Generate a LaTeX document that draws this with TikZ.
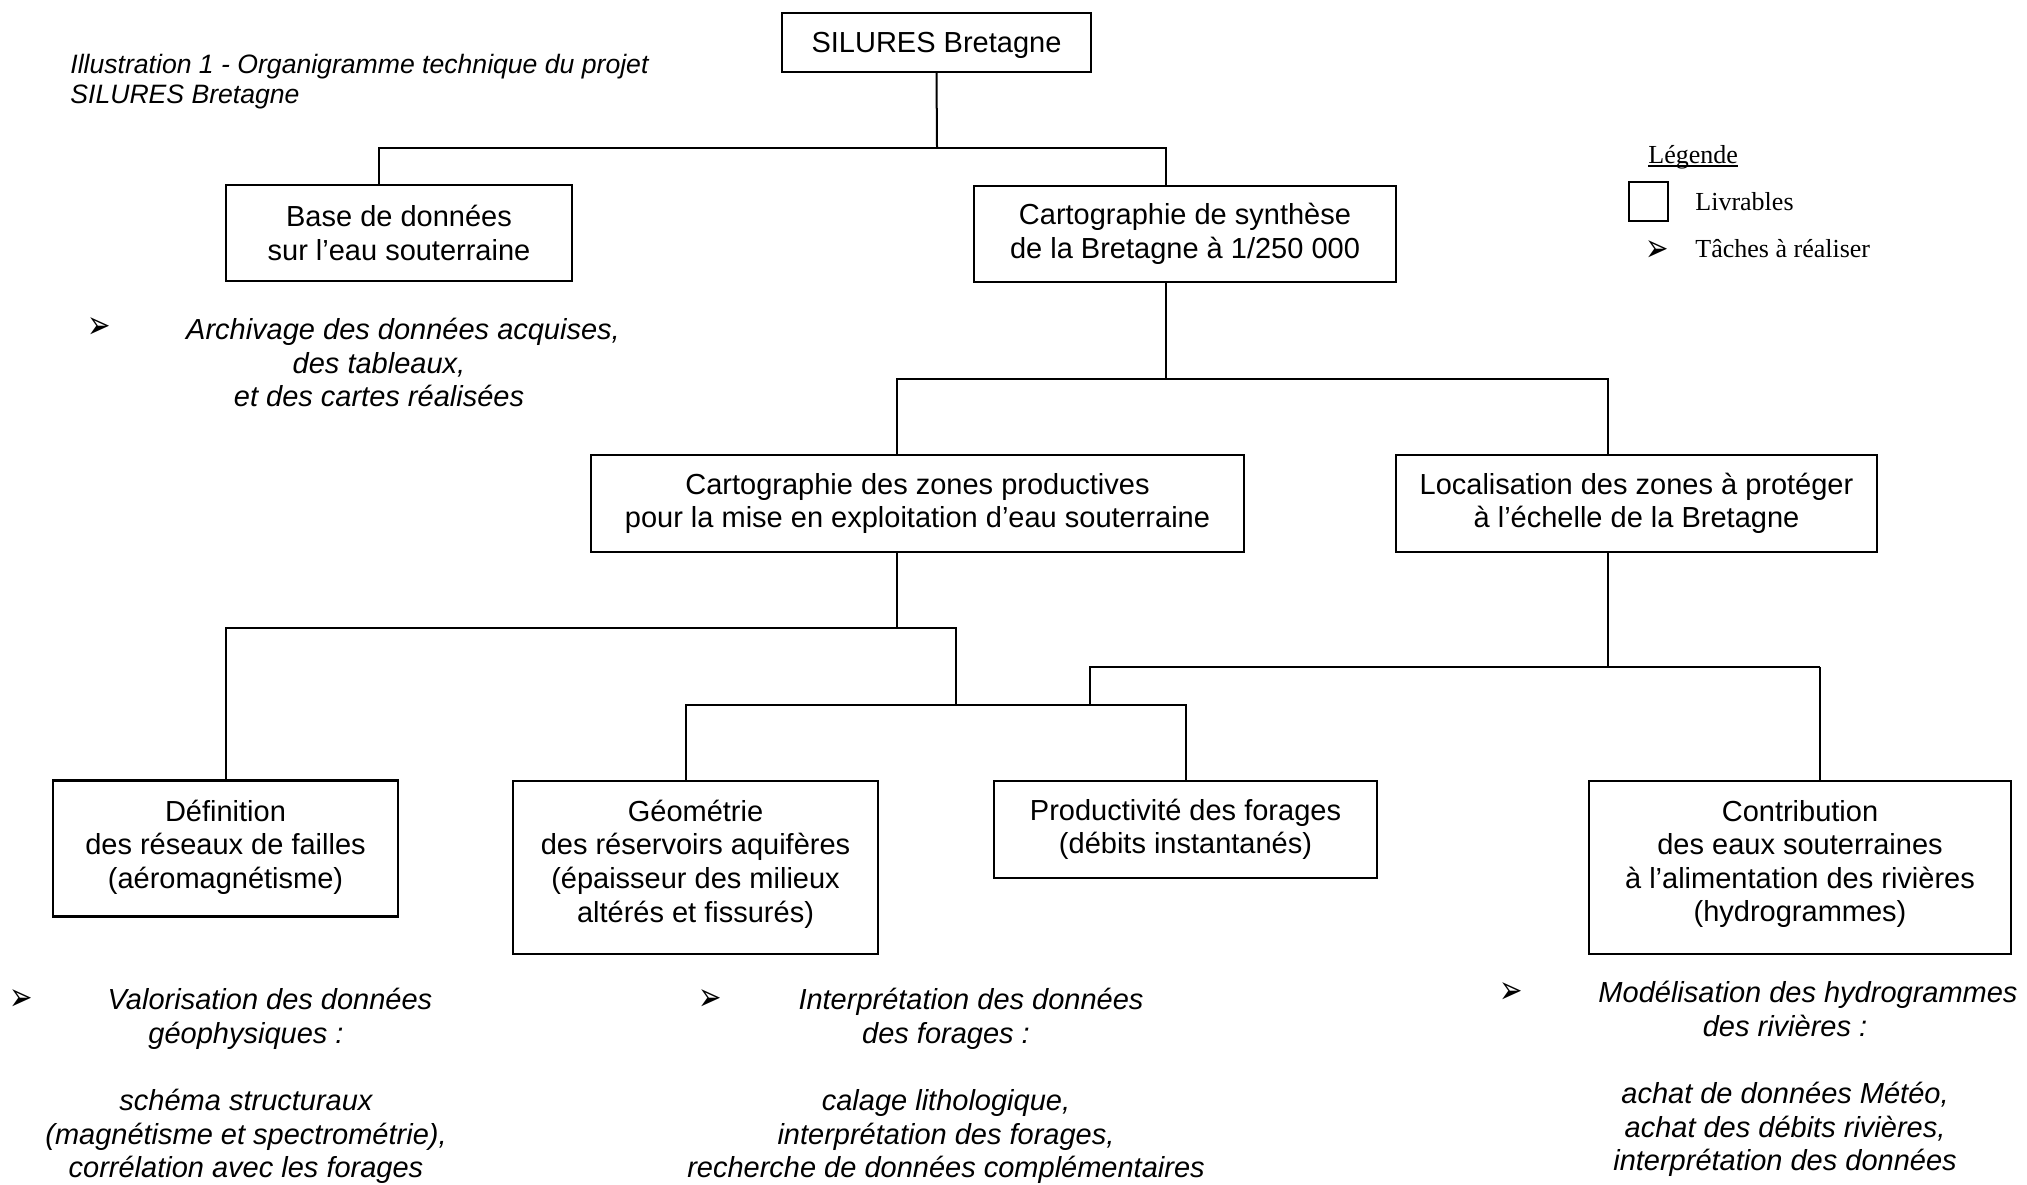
\documentclass[tikz,border=0pt]{standalone}
\usepackage{fontspec}
\setmainfont{Liberation Sans}
\newfontfamily\timesfam{Liberation Serif}
\newfontfamily\dejavufam{DejaVu Sans}
\newcommand\boxfont{\fontsize{14.5}{16.8}\selectfont}
\newcommand\taskfont{\itshape\fontsize{14.5}{16.8}\selectfont}
\newcommand\titlefont{\itshape\fontsize{13.3}{15}\selectfont}
\newcommand\legfont{\timesfam\fontsize{13}{15}\selectfont}
\newcommand\bulfont{\dejavufam\fontsize{14}{14}\selectfont}
\newcommand\bulglyph{\scalebox{1}[1.4]{➢}}
\begin{document}
\begin{tikzpicture}[x=0.5pt,y=-0.5pt,
  box/.style={draw, line width=1.1pt, inner sep=0pt, align=center, font=\boxfont},
  conn/.style={line width=1pt},
  connb/.style={line width=1.4pt},
  task/.style={inner sep=0pt, align=center, font=\taskfont, anchor=base},
  bul/.style={inner sep=0pt, font=\bulfont},
  legtxt/.style={inner sep=0pt, font=\legfont, anchor=base west}]
\useasboundingbox (0,0) rectangle (2027,1184);

% title (anchor base = baseline of its last line)
\node[inner sep=0pt, align=left, font=\titlefont, anchor=base west] (title) at (70,103)
  {Illustration 1 - Organigramme technique du projet\\SILURES Bretagne};

% boxes
\node[box, minimum width=154.5pt, minimum height=29.5pt] (top) at (936.5,42.5) {\rule{0pt}{13.5pt}SILURES Bretagne};
\node[box, minimum width=173pt, minimum height=48pt] (base) at (399,233) {Base de données\\sur l’eau souterraine};
\node[box, minimum width=211pt, minimum height=48pt] (synth) at (1185,234) {Cartographie de synthèse\\de la Bretagne à 1/250 000};
\node[box, minimum width=326.5pt, minimum height=48.5pt] (zones) at (917.5,503.5) {Cartographie des zones productives\\pour la mise en exploitation d’eau souterraine};
\node[box, minimum width=240.5pt, minimum height=48.5pt] (local) at (1636.5,503.5) {Localisation des zones à protéger\\à l’échelle de la Bretagne};
\node[box, minimum width=172.5pt, minimum height=68pt] (def) at (225.5,848.5) {Définition\\des réseaux de failles\\(aéromagnétisme)\rule[-4.5pt]{0pt}{4.5pt}};
\node[box, minimum width=182.5pt, minimum height=86.5pt] (geom) at (695.5,867.5) {Géométrie\\des réservoirs aquifères\\(épaisseur des milieux\\altérés et fissurés)\rule[-6.5pt]{0pt}{6.5pt}};
\node[box, minimum width=191.5pt, minimum height=48.5pt] (prod) at (1185.5,829.5) {Productivité des forages\\(débits instantanés)};
\node[box, minimum width=211pt, minimum height=86.5pt] (contrib) at (1800,867.5) {Contribution\\des eaux souterraines\\à l’alimentation des rivières\\(hydrogrammes)\rule[-6.5pt]{0pt}{6.5pt}};

% junction points
\coordinate (j1) at (937,148);
\coordinate (j1L) at (379,148);
\coordinate (j1R) at (1166,148);
\coordinate (j2) at (1166,379);
\coordinate (j2L) at (897,379);
\coordinate (j2R) at (1608,379);
\coordinate (j3) at (897,628);
\coordinate (j3L) at (226,628);
\coordinate (j3R) at (956,628);
\coordinate (j4) at (956,705);
\coordinate (j4L) at (686,705);
\coordinate (j4R) at (1186,705);
\coordinate (j5) at (1608,667);
\coordinate (j5L) at (1090,667);
\coordinate (j5R) at (1820,667);

% connectors
\draw[conn] (top.south) -- (j1);
\draw[conn] (j1L |- base.north) -- (j1L) -- (j1R) -- (j1R |- synth.north);
\draw[conn] (j2 |- synth.south) -- (j2);
\draw[conn] (j2L |- zones.north) -- (j2L) -- (j2R) -- (j2R |- local.north);
\draw[conn] (j3 |- zones.south) -- (j3);
\draw[conn] (j3L |- def.north) -- (j3L) -- (j3R) -- (j4);
\draw[conn] (j4L |- geom.north) -- (j4L) -- (j4R) -- (j4R |- prod.north);
\draw[conn] (j5 |- local.south) -- (j5);
\draw[connb] (j5L |- j4L) -- (j5L) -- (j5R);
\draw[conn] (j5R) -- (j5R |- contrib.north);

% tasks (multi-line nodes: anchor base = baseline of the last line)
\node[bul] (archB) at (99,328) {\bulglyph};
\node[task] (arch1) at (403,339.5) {Archivage des données acquises,};
\node[task] (arch2) at (379,406.6) {des tableaux,\\et des cartes réalisées};

\node[bul] (valB) at (21,1000) {\bulglyph};
\node[task] (val1) at (270,1009.5) {Valorisation des données};
\node[task] (val2) at (246,1177.9) {géophysiques :\\[16.8pt]schéma structuraux\\(magnétisme et spectrométrie),\\corrélation avec les forages};

\node[bul] (intB) at (710,1000) {\bulglyph};
\node[task] (int1) at (971,1009.5) {Interprétation des données};
\node[task] (int2) at (946,1177.9) {des forages :\\[16.8pt]calage lithologique,\\interprétation des forages,\\recherche de données complémentaires};

\node[bul] (modB) at (1511,993) {\bulglyph};
\node[task] (mod1) at (1808,1002.5) {Modélisation des hydrogrammes};
\node[task] (mod2) at (1785,1170.9) {des rivières :\\[16.8pt]achat de données Météo,\\achat des débits rivières,\\interprétation des données};

% legend
\node[legtxt] (leg) at (1648,163) {Légende};
\draw[line width=0.6pt] ([yshift=-1.5pt]leg.base west) -- ([yshift=-1.5pt]leg.base east);
\node[draw, line width=1pt, minimum size=19.5pt, inner sep=0pt] (legbox) at (1648.5,201.5) {};
\node[legtxt] (livr) at (1695,210) {Livrables};
\node[bul] (legB) at (1657,251) {\bulglyph};
\node[legtxt] (tach) at (1695,257) {Tâches à réaliser};
\end{tikzpicture}
\end{document}
